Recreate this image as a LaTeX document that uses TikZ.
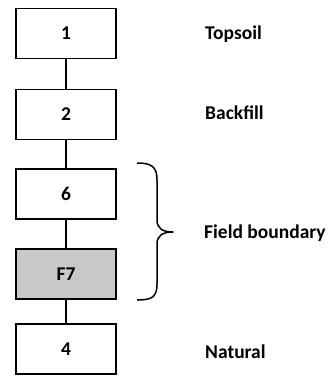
\documentclass[tikz,border=0pt]{standalone}
\usepackage{fontspec}
\setmainfont{Carlito}
\begin{document}
\begin{tikzpicture}[x=1pt,y=-1pt,
  layer/.style={draw=black, line width=1.8pt, fill=white, minimum width=100pt, minimum height=50pt, inner sep=0pt, font=\fontsize{19.5}{22}\selectfont\bfseries},
  link/.style={line width=1.8pt},
  caption/.style={anchor=base west, inner sep=0pt, font=\fontsize{19.5}{22}\selectfont\bfseries}]
\useasboundingbox (0,0) rectangle (334,376);
% stratigraphic units
\node[layer] (u1) at (66,33.5) {1};
\node[layer] (u2) at (66,114.5) {2};
\node[layer] (u6) at (66,194) {6};
\node[layer, fill={rgb,255:red,200;green,200;blue,200}] (uF7) at (66,274) {F7};
\node[layer] (u4) at (66,349) {4};
% sequence links
\draw[link] (u1) -- (u2);
\draw[link] (u2) -- (u6);
\draw[link] (u6) -- (uF7);
\draw[link] (uF7) -- (u4);
% descriptions, placed on their baselines
\node[caption] (t1) at (205,39.5) {Topsoil};
\node[caption] (t2) at (205,119.5) {Backfill};
\node[caption] (t3) at (204,238.5) {Field boundary};
\node[caption] (t4) at (205,358) {Natural};
% brace grouping 6 and F7
\coordinate (btop) at (137,163);
\coordinate (btip) at (173,232);
\coordinate (bbot) at (137,300);
\draw[line width=1.5pt, line join=round]
  (btop) .. controls (152,163) and (157,167) .. (157,180) -- (157,220)
  .. controls (157,228) and (162,232) .. (btip)
  .. controls (162,232) and (157,236) .. (157,244) -- (157,284)
  .. controls (157,297) and (152,300) .. (bbot);
\end{tikzpicture}
\end{document}
